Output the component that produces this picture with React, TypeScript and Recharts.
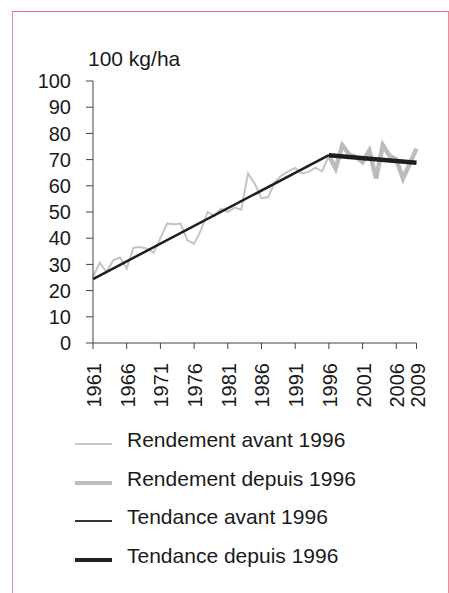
import React from 'react';
import { LineChart, Line, XAxis, YAxis, Legend } from 'recharts';

const years = Array.from({ length: 49 }, (_, i) => 1961 + i);

// rendement, 100 kg/ha
const yieldBefore = [
  25.2, 30.7, 27.1, 31.6, 32.6, 28.4, 36.4, 36.6, 36.0, 34.4,
  40.0, 45.6, 45.3, 45.6, 39.2, 37.9, 43.0, 50.0, 48.4, 51.3,
  50.0, 51.7, 50.9, 64.7, 60.8, 55.3, 55.7, 61.5, 64.0, 65.5,
  66.8, 64.7, 65.3, 66.9, 65.5, 71.6,
];
const yieldAfter = [71.6, 66.6, 75.5, 72.0, 71.0, 69.0, 73.5, 62.8, 75.5, 71.5, 70.0, 62.8, 68.5, 74.2];

const trendStart = { year: 1961, value: 24.4 };
const trendBreak = { year: 1996, value: 71.7 };
const trendEnd = { year: 2009, value: 68.8 };

const xTicks = [1961, 1966, 1971, 1976, 1981, 1986, 1991, 1996, 2001, 2006, 2009];
const yTicks = [0, 10, 20, 30, 40, 50, 60, 70, 80, 90, 100];

const data = years.map((year, i) => ({
  year,
  before: i < yieldBefore.length ? yieldBefore[i] : null,
  after: year >= 1996 ? yieldAfter[year - 1996] : null,
  trendBefore: year === trendStart.year ? trendStart.value : year === trendBreak.year ? trendBreak.value : null,
  trendAfter: year === trendBreak.year ? trendBreak.value : year === trendEnd.year ? trendEnd.value : null,
}));

const FONT = 'Liberation Sans, Arial, sans-serif';

const legendItems = [
  { label: 'Rendement avant 1996', color: '#c8c8c8', width: 2 },
  { label: 'Rendement depuis 1996', color: '#bcbcbc', width: 4 },
  { label: 'Tendance avant 1996', color: '#333333', width: 2 },
  { label: 'Tendance depuis 1996', color: '#222222', width: 4 },
];

const XTick = (props: any) => {
  const { x, y, payload } = props;
  return (
    <text
      x={x + 8}
      y={y + 12}
      transform={`rotate(-90 ${x + 8} ${y + 12})`}
      textAnchor="end"
      fontSize={20}
      fontFamily={FONT}
      fill="#1a1a1a"
    >
      {payload.value}
    </text>
  );
};

const UnitLabel = (props: any) => {
  const { viewBox } = props;
  return (
    <text x={viewBox.x + viewBox.width - 5} y={viewBox.y - 15} fontSize={21} fontFamily={FONT} fill="#1a1a1a">
      100 kg/ha
    </text>
  );
};

const LegendContent = () => (
  <div style={{ fontFamily: FONT, fontSize: 21, color: '#1a1a1a' }}>
    {legendItems.map((item) => (
      <div key={item.label} style={{ display: 'flex', alignItems: 'center', height: 38.5 }}>
        <div
          style={{
            width: 37,
            height: item.width,
            background: item.color,
            marginRight: 15,
            marginTop: 8,
          }}
        />
        <span>{item.label}</span>
      </div>
    ))}
  </div>
);

export default function App() {
  return (
    <div style={{ position: 'relative', width: 449, height: 593, background: '#fff' }}>
      <style>{'body{margin:0}'}</style>
      <div style={{ position: 'absolute', left: 12, top: 11, width: 435, height: 582, borderTop: '1.5px solid #e8707f', borderLeft: '1.5px solid #ec8c98', borderRight: '1.5px solid #ec8c98' }} />
      <LineChart
        width={449}
        height={593}
        data={data}
        margin={{ top: 81, right: 32.5, left: 33, bottom: 180 }}
        style={{ position: 'absolute', left: 0, top: 0 }}
      >
        <XAxis
          dataKey="year"
          type="number"
          domain={[1961, 2009]}
          ticks={xTicks}
          interval={0}
          height={70}
          tickSize={6}
          tick={<XTick />}
          stroke="#444"
        />
        <YAxis
          domain={[0, 100]}
          ticks={yTicks}
          interval={0}
          width={60}
          tickSize={7}
          tickMargin={15}
          stroke="#444"
          tick={{ fontSize: 20, fontFamily: FONT, fill: '#1a1a1a' }}
          label={<UnitLabel />}
        />
        <Legend
          layout="vertical"
          align="center"
          verticalAlign="middle"
          content={<LegendContent />}
          wrapperStyle={{ left: 75, top: 421, width: 360 }}
        />
        <Line dataKey="before" name="Rendement avant 1996" stroke="#c4c4c4" strokeWidth={2} dot={false} isAnimationActive={false} />
        <Line dataKey="after" name="Rendement depuis 1996" stroke="#bcbcbc" strokeWidth={4.5} dot={false} isAnimationActive={false} />
        <Line dataKey="trendBefore" name="Tendance avant 1996" stroke="#1e1e1e" strokeWidth={2.5} dot={false} connectNulls isAnimationActive={false} />
        <Line dataKey="trendAfter" name="Tendance depuis 1996" stroke="#1e1e1e" strokeWidth={4.5} dot={false} connectNulls isAnimationActive={false} />
      </LineChart>
    </div>
  );
}
